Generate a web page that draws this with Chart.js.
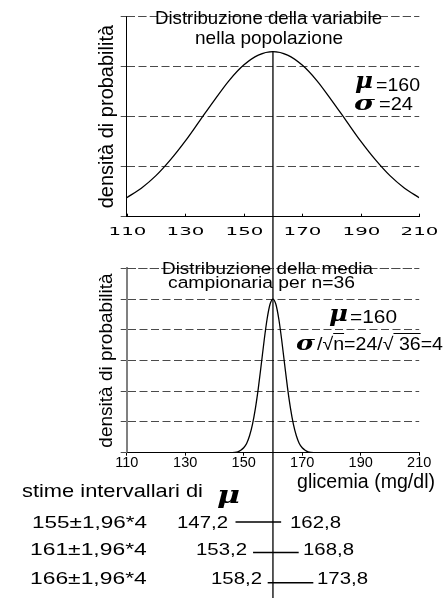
<!DOCTYPE html>
<html lang="it">
<head>
<meta charset="utf-8">
<title>Distribuzione della glicemia</title>
<script src="https://cdn.jsdelivr.net/npm/chart.js"></script>
<style>
  html, body { margin: 0; padding: 0; background: #fff; }
  #page { position: relative; width: 444px; height: 598px; overflow: hidden; }
  canvas { position: absolute; left: 0; }
  .note { position: absolute; white-space: nowrap; line-height: 1; color: #000;
          transform-origin: 0 0; font-family: "Liberation Sans", Arial, sans-serif; }
  .greek { font-family: "DejaVu Serif", serif; font-weight: bold; font-style: italic; }
  .ov { text-decoration: overline; }
</style>
</head>
<body>
<div id="page">
  <canvas id="pop-chart" width="444" height="250" style="top:0"></canvas>
  <canvas id="sample-chart" width="444" height="220" style="top:250px"></canvas>
  <canvas id="ci-chart" width="444" height="128" style="top:470px"></canvas>
</div>
<script>
// glicemia axis
const xMin = 110, xMax = 210, xStep = 20;
const mu = 160;

// population density
const popX = [110, 115, 120, 125, 130, 135, 140, 145, 150, 155, 160,
              165, 170, 175, 180, 185, 190, 195, 200, 205, 210];
const popDensity = [0.38, 0.57, 0.82, 1.14, 1.51, 1.92, 2.33, 2.72, 3.03, 3.23, 3.30,
                    3.23, 3.03, 2.72, 2.33, 1.92, 1.51, 1.14, 0.82, 0.57, 0.38];

// sample mean density, n = 36
const sampleX = [110, 140, 145, 147, 148, 149, 150, 151, 152, 153, 154, 155, 156, 157, 158, 159, 160,
                 161, 162, 163, 164, 165, 166, 167, 168, 169, 170, 171, 172, 173, 175, 180, 210];
const sampleDensity = [0, 0, 0, 0.01, 0.03, 0.08, 0.16, 0.30, 0.55, 0.92, 1.44, 2.10, 2.87, 3.66, 4.35, 4.83, 5.00,
                       4.83, 4.35, 3.66, 2.87, 2.10, 1.44, 0.92, 0.55, 0.30, 0.16, 0.08, 0.03, 0.01, 0, 0, 0];

// interval estimates of mu
const sampleMeans = [155, 161, 166];
const ciLow = [147.2, 153.2, 158.2];
const ciHigh = [162.8, 168.8, 173.8];

const gridGrey = '#4a4a4a';
const gridDash = [8, 3.5];
Chart.defaults.font.family = '"Liberation Sans", Arial, sans-serif';
Chart.defaults.color = '#000';

function pts(xs, ys) {
  return xs.map((x, i) => ({x: x, y: ys[i]}));
}

// vertical line at the mean, down to the bottom of the canvas
const meanLine = {
  id: 'meanLine',
  afterDatasetsDraw(chart, args, opts) {
    const ctx = chart.ctx, x = chart.scales.x, y = chart.scales.y;
    const px = x.getPixelForValue(opts.value);
    const top = opts.from === undefined ? 0 : y.getPixelForValue(opts.from);
    ctx.save();
    ctx.strokeStyle = '#000';
    ctx.lineWidth = 1.3;
    ctx.beginPath();
    ctx.moveTo(px, top);
    ctx.lineTo(px, chart.height);
    ctx.stroke();
    ctx.restore();
  }
};

// dashed line at the top of the density axis (same phase as the grid)
const topGrid = {
  id: 'topGrid',
  afterDraw(chart) {
    const ctx = chart.ctx, y = chart.scales.y, area = chart.chartArea;
    const py = Math.round(y.getPixelForValue(y.max) - 0.5) + 0.5;
    ctx.save();
    ctx.strokeStyle = gridGrey;
    ctx.lineWidth = 1;
    ctx.setLineDash(gridDash);
    ctx.beginPath();
    ctx.moveTo(area.left, py);
    ctx.lineTo(area.right, py);
    ctx.stroke();
    ctx.restore();
  }
};

// the upper chart has wide, stretched tick labels and inward ticks
const wideTicks = {
  id: 'wideTicks',
  afterDraw(chart, args, opts) {
    const ctx = chart.ctx, x = chart.scales.x;
    ctx.save();
    ctx.strokeStyle = '#000';
    ctx.fillStyle = '#000';
    ctx.lineWidth = 1;
    ctx.font = opts.font;
    ctx.textAlign = 'center';
    ctx.textBaseline = 'alphabetic';
    x.ticks.forEach(t => {
      const px = Math.round(x.getPixelForValue(t.value)) + 0.5;
      ctx.beginPath();
      ctx.moveTo(px, x.top);
      ctx.lineTo(px, x.top - 3);
      ctx.stroke();
      ctx.save();
      ctx.translate(px, x.top + opts.offset);
      ctx.scale(opts.stretch, 1);
      ctx.fillText(t.label, 0, 0);
      ctx.restore();
    });
    ctx.restore();
  }
};

function yAxis(max, title, titleSize, borderColor, borderWidth) {
  return {
    type: 'linear', min: 0, max: max,
    ticks: {display: false, stepSize: 1},
    grid: {color: gridGrey, lineWidth: 1, tickLength: 6, tickColor: gridGrey, tickBorderDash: []},
    border: {display: true, color: borderColor, width: borderWidth, dash: gridDash},
    title: {display: true, text: title, padding: 0, color: '#000',
            font: {size: titleSize, lineHeight: 1}},
    afterFit(s) { s.width = 29.2; }
  };
}

function drawPopulation() {
  new Chart(document.getElementById('pop-chart'), {
    type: 'line',
    data: {
      datasets: [{
        data: pts(popX, popDensity),
        borderColor: '#000', borderWidth: 1.3, pointRadius: 0,
        cubicInterpolationMode: 'monotone'
      }]
    },
    options: {
      responsive: false, animation: false, events: [],
      layout: {padding: {left: 97.5, right: 24.8, top: 16.5, bottom: 0}},
      scales: {
        x: {
          type: 'linear', min: xMin, max: xMax,
          ticks: {display: false, stepSize: xStep},
          grid: {drawOnChartArea: false, drawTicks: false},
          border: {display: true, color: '#000', width: 1},
          afterFit(s) { s.height = 33.3; }
        },
        y: yAxis(4, 'densità di probabilità', 20, '#000', 1)
      },
      plugins: {
        legend: {display: false},
        tooltip: {enabled: false},
        meanLine: {value: mu, from: Math.max(...popDensity)},
        wideTicks: {font: '11px "DejaVu Sans"', stretch: 1.8, offset: 18.6}
      }
    },
    plugins: [meanLine, topGrid, wideTicks]
  });
}

function drawSampleMean() {
  new Chart(document.getElementById('sample-chart'), {
    type: 'line',
    data: {
      datasets: [{
        data: pts(sampleX, sampleDensity),
        borderColor: '#000', borderWidth: 1.3, pointRadius: 0,
        cubicInterpolationMode: 'monotone'
      }]
    },
    options: {
      responsive: false, animation: false, events: [],
      layout: {padding: {left: 97.5, right: 24.8, top: 18.3, bottom: 0}},
      scales: {
        x: {
          type: 'linear', min: xMin, max: xMax,
          ticks: {stepSize: xStep, padding: 0, maxRotation: 0, autoSkip: false,
                  font: {size: 14.5, lineHeight: 1}},
          grid: {drawOnChartArea: false, drawTicks: true, tickLength: 3, tickColor: '#000', color: '#000'},
          border: {display: true, color: '#000', width: 1},
          afterFit(s) { s.height = 17.3; }
        },
        y: yAxis(6, 'densità di probabilità', 19, '#808080', 2)
      },
      plugins: {
        legend: {display: false},
        tooltip: {enabled: false},
        meanLine: {value: mu}
      }
    },
    plugins: [meanLine, topGrid]
  });
}

function drawIntervals() {
  const sets = sampleMeans.map((m, i) => ({
    data: [{x: ciLow[i], y: i + 1}, {x: ciHigh[i], y: i + 1}],
    borderColor: '#000', borderWidth: 1.5, pointRadius: 0, clip: false
  }));
  new Chart(document.getElementById('ci-chart'), {
    type: 'line',
    data: {datasets: sets},
    options: {
      responsive: false, animation: false, events: [],
      layout: {padding: {left: 126.7, right: 24.8, top: 36.75, bottom: 0}},
      scales: {
        x: {type: 'linear', min: xMin, max: xMax, display: false},
        y: {type: 'linear', min: 0.5, max: 3.5, reverse: true, display: false}
      },
      plugins: {
        legend: {display: false},
        tooltip: {enabled: false},
        meanLine: {value: mu}
      }
    },
    plugins: [meanLine]
  });
}

// free text, stretched to the width it has in the figure
const page = document.getElementById('page');
function note(html, left, right, base, size, cls) {
  const el = document.createElement('div');
  el.className = 'note' + (cls ? ' ' + cls : '');
  el.innerHTML = html;
  el.style.fontSize = size + 'px';
  el.style.left = left + 'px';
  el.style.top = (base - 0.846 * size) + 'px';
  page.appendChild(el);
  const w = el.getBoundingClientRect().width;
  el.style.transform = 'scaleX(' + ((right - left) / w).toFixed(3) + ')';
}

function comma(v) {
  return v.toFixed(1).replace('.', ',');
}

function drawNotes() {
  note('Distribuzione della variabile', 155, 382, 25, 18.5);
  note('nella popolazione', 195, 343, 45, 18.5);
  note('μ', 355, 373, 88, 22, 'greek');
  note('=' + mu, 376, 420, 91, 19);
  note('σ', 354, 375, 110, 20, 'greek');
  note('=24', 379, 413, 110, 19);

  note('Distribuzione della media', 162, 373, 273.5, 16.3);
  note('campionaria per n=36', 168, 355, 287.5, 16.3);
  note('μ', 329, 348, 321, 22, 'greek');
  note('=' + mu, 350, 397, 324, 17.5);
  note('σ', 296, 315, 349.3, 21, 'greek');
  note('/√<span class="ov">n</span>=24/√<span class="ov">&nbsp;36</span>=4', 317, 443, 350, 18);

  note('stime intervallari di', 22, 203, 497, 19);
  note('μ', 217, 240, 503, 25, 'greek');
  note('glicemia (mg/dl)', 297, 435, 488.3, 19.5);

  const rowBase = [528, 555, 584];
  const lowRight = [228.3, 246.7, 261.7];
  const highLeft = [290, 303.3, 316.7];
  sampleMeans.forEach((m, i) => {
    note(m + '±1,96*4', i ? 30 : 31.7, 146.7, rowBase[i], 17);
    note(comma(ciLow[i]), lowRight[i] - 51, lowRight[i], rowBase[i], 17);
    note(comma(ciHigh[i]), highLeft[i], highLeft[i] + 51, rowBase[i], 17);
  });
}

drawPopulation();
drawSampleMean();
drawIntervals();
drawNotes();
</script>
</body>
</html>
